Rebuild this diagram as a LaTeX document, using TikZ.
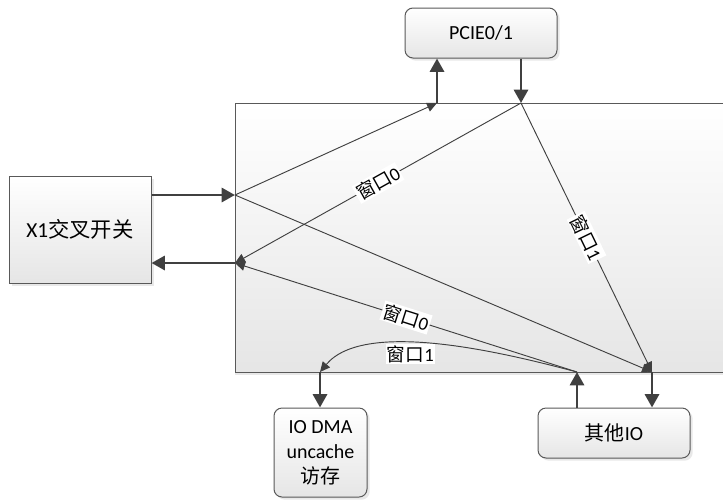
\documentclass[tikz,border=0pt]{standalone}
\usepackage{fontspec}
\setmainfont{Carlito}
\newfontfamily\cjk{Noto Sans CJK SC}
\usetikzlibrary{arrows.meta,shadows}

\begin{document}
\begin{tikzpicture}[x=0.75pt,y=-0.75pt,
	box/.style={draw=black!65, line width=0.75pt, top color=white, bottom color=black!10,
		drop shadow={shadow xshift=2pt,shadow yshift=-2pt,fill=black!18},
		align=center, font=\fontsize{15}{18.75}\selectfont},
	roundbox/.style={box, rounded corners=6pt},
	fat/.style={color=black!75, line width=2.2pt, -{Triangle[length=10pt,width=10.5pt]}},
	slim/.style={color=black!75, line width=0.7pt, -{Triangle[length=7.5pt,width=7pt]}},
	lbl/.style={fill=white, text=black, inner sep=1pt, font=\fontsize{14}{16}\selectfont}]

			\useasboundingbox (0,0) rectangle (723,500);

			% central box, cut by the right border
			\draw[draw=black!65, line width=0.75pt, top color=white, bottom color=black!10,
				drop shadow={shadow xshift=0pt,shadow yshift=-2pt,fill=black!18}] (235,103) rectangle (745,372);

			\node[box, minimum width=106.5pt, minimum height=80.25pt, font=\fontsize{16}{18.75}\selectfont] (x1) at (80,229.5) {X1{\cjk 交叉开关}};
			\node[roundbox, minimum width=114pt, minimum height=37.5pt] (pcie) at (481,33) {PCIE0/1};
			\node[roundbox, minimum width=69.75pt, minimum height=66.75pt] (dmabox) at (320.5,452.5) {IO DMA\\uncache\\{\cjk 访存}};
			\node[roundbox, minimum width=114pt, minimum height=37.5pt] (io) at (614,433) {{\cjk 其他}IO};

			\coordinate (inA) at (235,195);
			\coordinate (outA) at (235,263);
			\coordinate (pUp) at (437,103);
			\coordinate (pDn) at (521,103);
			\coordinate (dma) at (320,372);
			\coordinate (ioUp) at (577,372);
			\coordinate (ioDn) at (652,372);

			\path [fat] (x1.east |- inA) edge (inA);
			\path [fat] (outA) edge (x1.east |- outA);
			\path [fat] (pUp) edge (pcie.south -| pUp);
			\path [fat] (pcie.south -| pDn) edge (pDn);
			\path [fat] (dma) edge (dmabox.north -| dma);
			\path [fat] (io.north -| ioUp) edge (ioUp);
			\path [fat] (ioDn) edge (io.north -| ioDn);

			\path [slim] (inA) edge (pUp);
			\path [slim] (inA) edge (ioDn);
			\path [slim] (pDn) edge node[lbl, sloped] {{\cjk 窗口}0} (outA);
			\path [slim] (pDn) edge node[lbl, sloped] {{\cjk 窗口}1} (ioDn);
			\path [slim] (ioUp) edge node[lbl, sloped] {{\cjk 窗口}0} (outA);
			\draw [slim] (ioUp) .. controls (509,354) and (365,318) .. node[lbl, pos=0.6, below] {{\cjk 窗口}1} (dma);
		\end{tikzpicture}
\end{document}
